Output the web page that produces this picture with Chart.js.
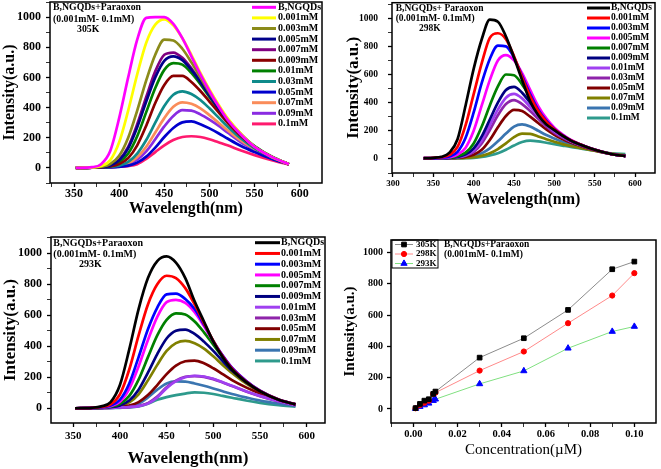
<!DOCTYPE html>
<html lang="en">
<head>
<meta charset="UTF-8">
<title>B,NGQDs + Paraoxon fluorescence</title>
<script src="https://cdn.jsdelivr.net/npm/chart.js@4"></script>
<style>
  body { margin: 0; background: #fff; }
  .panel { position: absolute; }
</style>
</head>
<body>
<div class="panel" style="left:0;top:0"><canvas id="c305" width="330" height="222"></canvas></div>
<div class="panel" style="left:330px;top:0"><canvas id="c298" width="331" height="214"></canvas></div>
<div class="panel" style="left:0;top:230px"><canvas id="c293" width="330" height="239"></canvas></div>
<div class="panel" style="left:330px;top:230px"><canvas id="cConc" width="331" height="239"></canvas></div>

<script>
// legend labels, same order in every spectrum panel
const seriesLabels = ['B,NGQDs', '0.001mM', '0.003mM', '0.005mM', '0.007mM', '0.009mM',
                      '0.01mM', '0.03mM', '0.05mM', '0.07mM', '0.09mM', '0.1mM'];

// 305K spectra
const wl305 = [352, 370, 380, 390, 400, 410, 420, 430, 440, 450, 460, 470, 480, 490, 500, 510, 520, 535, 550, 570, 588];
const int305 = [
  [0, 5, 25, 110, 330, 600, 850, 995, 1000, 1000, 955, 860, 740, 620, 510, 410, 320, 220, 140, 70, 25],
  [0, 3, 12, 50, 170, 380, 620, 830, 950, 985, 945, 860, 750, 630, 520, 420, 330, 225, 140, 70, 25],
  [0, 2, 8, 25, 80, 200, 380, 580, 750, 850, 845, 790, 700, 600, 500, 410, 325, 225, 140, 70, 25],
  [0, 2, 6, 15, 50, 130, 270, 440, 600, 710, 740, 715, 650, 570, 480, 395, 320, 220, 140, 70, 25],
  [0, 2, 6, 18, 55, 140, 290, 470, 640, 750, 765, 730, 660, 575, 485, 400, 320, 220, 140, 70, 25],
  [0, 2, 4, 10, 25, 65, 150, 280, 430, 550, 610, 610, 570, 510, 440, 370, 300, 210, 140, 70, 25],
  [0, 2, 5, 12, 35, 95, 210, 370, 530, 650, 695, 685, 630, 555, 470, 390, 315, 220, 145, 72, 25],
  [0, 1, 3, 7, 15, 40, 95, 185, 300, 410, 485, 508, 490, 450, 395, 335, 275, 195, 130, 68, 25],
  [0, 1, 2, 3, 7, 15, 35, 75, 135, 205, 265, 302, 308, 290, 262, 230, 195, 145, 105, 58, 25],
  [0, 1, 2, 5, 12, 30, 70, 140, 235, 330, 405, 435, 425, 395, 350, 300, 250, 180, 125, 65, 25],
  [0, 1, 2, 4, 10, 25, 55, 110, 190, 275, 345, 383, 380, 355, 320, 280, 235, 170, 120, 62, 25],
  [0, 2, 3, 5, 8, 12, 25, 60, 105, 150, 185, 205, 210, 205, 190, 170, 150, 115, 85, 50, 22]
];

// 298K spectra
const wl298 = [338, 350, 360, 370, 380, 390, 400, 410, 420, 430, 440, 450, 460, 470, 480, 490, 500, 510, 520, 535, 550, 570, 588];
const int298 = [
  [5, 8, 15, 45, 140, 380, 640, 850, 990, 975, 870, 720, 560, 410, 310, 245, 205, 165, 132, 95, 65, 35, 20],
  [5, 8, 12, 28, 85, 240, 460, 680, 860, 893, 850, 730, 580, 445, 340, 265, 210, 168, 133, 96, 65, 35, 20],
  [5, 6, 9, 18, 50, 150, 330, 540, 710, 805, 800, 720, 590, 460, 350, 272, 212, 170, 133, 96, 65, 35, 20],
  [5, 5, 7, 12, 30, 80, 200, 380, 560, 700, 738, 700, 610, 490, 375, 288, 222, 174, 136, 97, 66, 35, 20],
  [4, 5, 6, 9, 20, 45, 110, 230, 380, 515, 600, 595, 530, 440, 350, 275, 215, 170, 133, 96, 66, 35, 20],
  [4, 4, 5, 7, 14, 32, 75, 160, 280, 400, 490, 512, 470, 400, 325, 260, 205, 165, 130, 95, 65, 35, 20],
  [4, 4, 5, 7, 12, 26, 60, 130, 240, 350, 435, 462, 430, 370, 305, 245, 195, 160, 128, 93, 65, 35, 20],
  [4, 4, 5, 6, 11, 23, 50, 110, 205, 310, 390, 418, 390, 340, 285, 230, 185, 152, 123, 90, 63, 35, 20],
  [4, 4, 4, 6, 9, 15, 30, 65, 135, 225, 305, 348, 340, 300, 255, 210, 172, 142, 116, 87, 62, 35, 20],
  [3, 3, 3, 4, 5, 7, 12, 22, 40, 70, 110, 155, 180, 178, 160, 140, 122, 105, 92, 75, 58, 38, 25],
  [4, 4, 4, 5, 7, 11, 20, 40, 75, 125, 180, 230, 245, 230, 200, 170, 145, 122, 103, 80, 60, 36, 22],
  [2, 2, 3, 3, 4, 5, 8, 14, 25, 40, 65, 95, 120, 130, 125, 115, 105, 95, 85, 72, 58, 40, 35]
];

// 293K spectra
const wl293 = [352, 370, 380, 390, 400, 410, 420, 430, 440, 450, 460, 470, 480, 490, 500, 510, 520, 535, 550, 570, 588];
const int293 = [
  [0, 3, 12, 40, 150, 380, 640, 840, 950, 980, 940, 840, 690, 560, 430, 330, 250, 170, 110, 55, 25],
  [0, 2, 8, 25, 90, 250, 470, 670, 800, 855, 840, 775, 670, 550, 435, 335, 255, 172, 110, 55, 25],
  [0, 2, 6, 18, 55, 160, 330, 510, 650, 735, 740, 705, 640, 540, 435, 340, 260, 175, 112, 55, 25],
  [0, 2, 5, 14, 42, 125, 270, 440, 590, 685, 700, 680, 620, 530, 430, 340, 262, 178, 113, 56, 25],
  [0, 2, 4, 10, 28, 80, 185, 330, 470, 570, 612, 605, 560, 490, 410, 330, 258, 175, 113, 56, 25],
  [0, 2, 3, 7, 18, 50, 120, 230, 350, 450, 500, 508, 480, 430, 370, 305, 243, 168, 110, 55, 25],
  [0, 1, 2, 3, 5, 8, 14, 30, 70, 130, 175, 200, 210, 205, 190, 168, 145, 110, 80, 45, 20],
  [0, 1, 2, 3, 5, 8, 15, 33, 75, 135, 178, 203, 208, 203, 188, 166, 143, 108, 78, 44, 20],
  [0, 1, 2, 4, 8, 18, 40, 85, 150, 220, 275, 303, 308, 290, 258, 220, 182, 135, 95, 50, 22],
  [0, 1, 3, 6, 14, 38, 90, 180, 280, 370, 420, 435, 420, 385, 335, 280, 228, 160, 106, 54, 25],
  [0, 1, 2, 3, 6, 12, 30, 70, 120, 160, 173, 172, 160, 145, 128, 110, 92, 70, 50, 30, 15],
  [0, 0, 1, 2, 3, 5, 12, 30, 55, 72, 85, 95, 102, 100, 92, 80, 68, 50, 35, 20, 10]
];

// intensity vs concentration
const conc = [0.001, 0.003, 0.005, 0.007, 0.009, 0.01, 0.03, 0.05, 0.07, 0.09, 0.1];
const k305 = [5, 32, 53, 62, 96, 111, 328, 452, 633, 893, 942];
const k298 = [4, 25, 40, 53, 96, 104, 245, 367, 548, 725, 868];
const k293 = [2, 15, 25, 36, 53, 62, 160, 243, 388, 495, 527];

// labelled ticks
const wlTicksA = [350, 400, 450, 500, 550, 600];
const wlTicksB = [300, 350, 400, 450, 500, 550, 600];
const intTicks = [0, 200, 400, 600, 800, 1000];
const concTicks = [0, 0.02, 0.04, 0.06, 0.08, 0.1];

const colors305 = ['#ff00ff', '#ffff00', '#8b8b1a', '#00008b', '#800080', '#8b0000',
                   '#008000', '#0f8b8b', '#0000cd', '#fa8c5a', '#8a2be2', '#ff1a6e'];
const colors298 = ['#000000', '#ff0000', '#0000ff', '#ff00ff', '#008000', '#000080',
                   '#a040f0', '#8e24aa', '#800000', '#808000', '#3a75b0', '#2e9a8c'];

const serif = "'Liberation Serif', 'Times New Roman', serif";
Chart.defaults.font.family = serif;
Chart.defaults.color = '#000';

function bold(size) { return 'bold ' + size + 'px ' + serif; }
const near = (a, b) => Math.abs(a - b) < 1e-7;

// frame, notes and legend drawn over the plot
function deco(cfg) {
  return {
    id: 'deco',
    afterDraw(chart) {
      const { ctx, chartArea: a } = chart;
      ctx.save();
      ctx.strokeStyle = '#000';
      ctx.lineWidth = 1.5;
      ctx.strokeRect(a.left, a.top, a.right - a.left, a.bottom - a.top);
      ctx.fillStyle = '#000';
      ctx.textAlign = 'left';
      ctx.textBaseline = 'middle';
      cfg.notes.forEach(n => {
        ctx.font = n.font;
        ctx.fillText(n.text, n.x, n.y);
      });
      const lg = cfg.legend;
      if (lg.box) {
        ctx.lineWidth = 1;
        ctx.strokeRect(lg.box[0], lg.box[1], lg.box[2], lg.box[3]);
      }
      ctx.font = lg.font;
      chart.data.datasets.forEach((ds, i) => {
        const y = lg.y + i * lg.dy;
        ctx.strokeStyle = ds.borderColor;
        ctx.lineWidth = lg.lineWidth;
        ctx.beginPath();
        ctx.moveTo(lg.x0, y);
        ctx.lineTo(lg.x1, y);
        ctx.stroke();
        if (lg.markers) {
          ctx.fillStyle = ds.pointBackgroundColor;
          ctx.strokeStyle = ds.pointBorderColor;
          ctx.lineWidth = 1;
          Chart.helpers.drawPoint(ctx, { pointStyle: ds.pointStyle, radius: ds.pointRadius, borderWidth: 1, rotation: 0 },
                                  (lg.x0 + lg.x1) / 2, y);
        }
        ctx.fillStyle = '#000';
        ctx.fillText(ds.label, lg.textX, y);
      });
      ctx.restore();
    }
  };
}

function axis(c) {
  return {
    type: 'linear',
    min: c.min, max: c.max,
    // tick marks every `step`, labels only on the listed values
    afterBuildTicks: s => {
      const t = [];
      for (let k = Math.ceil(c.min / c.step - 1e-9); k * c.step <= c.max + 1e-9; k++) {
        t.push({ value: Math.round(k * c.step * 1e6) / 1e6 });
      }
      s.ticks = t;
    },
    afterFit: s => {
      if (c.width) s.width = c.width;
      if (c.height) s.height = c.height;
      s.paddingTop = 0; s.paddingBottom = 0; s.paddingLeft = 0; s.paddingRight = 0;
    },
    border: { display: false },
    grid: {
      drawOnChartArea: false, color: '#000', tickLength: 4,
      tickWidth: t => c.labels.some(v => near(v, t.tick.value)) ? 1.3 : 0.8
    },
    ticks: {
      autoSkip: false, maxRotation: 0,
      padding: c.pad, font: c.font,
      callback: v => {
        const hit = c.labels.find(m => near(m, v));
        return hit === undefined ? '' : (c.fmt ? c.fmt(hit) : String(hit));
      }
    },
    title: { display: true, text: c.title, font: c.titleFont, padding: c.titlePad }
  };
}

function spectrum(id, wl, rows, colors, cfg) {
  const datasets = rows.map((row, i) => ({
    label: seriesLabels[i],
    data: row.map((v, j) => ({ x: wl[j], y: v })),
    borderColor: colors[i],
    borderWidth: 2.7,
    pointRadius: 0,
    cubicInterpolationMode: 'monotone',
    fill: false
  }));
  new Chart(document.getElementById(id), {
    type: 'line',
    data: { datasets },
    options: {
      responsive: false,
      animation: false,
      layout: { padding: cfg.pad },
      plugins: { legend: { display: false }, tooltip: { enabled: false } },
      scales: { x: axis(cfg.x), y: axis(cfg.y) }
    },
    plugins: [deco(cfg)]
  });
}

// 305K
spectrum('c305', wl305, int305, colors305, {
  pad: { left: 0, top: 2, right: 8, bottom: 0 },
  x: { min: 323.4, max: 624.7, step: 25, labels: wlTicksA, height: 39, pad: 0, font: { size: 12, weight: 'bold' },
       title: 'Wavelength(nm)', titleFont: { size: 16, weight: 'bold' }, titlePad: { top: 0, bottom: 4 } },
  y: { min: -100, max: 1100, step: 100, labels: intTicks, width: 50, pad: 5, font: { size: 12, weight: 'bold' },
       title: 'Intensity(a.u.)', titleFont: { size: 16, weight: 'bold' }, titlePad: { top: 0, bottom: 0 } },
  notes: [
    { text: 'B,NGQDs+Paraoxon', x: 53, y: 7, font: bold(9.8) },
    { text: '(0.001mM- 0.1mM)', x: 53, y: 19, font: bold(9.8) },
    { text: '305K', x: 77, y: 29.5, font: bold(9.8) }
  ],
  legend: { x0: 252, x1: 276, textX: 278, y: 7.3, dy: 10.6, lineWidth: 3, font: bold(10) }
});

// 298K
spectrum('c298', wl298, int298, colors298, {
  pad: { left: 0, top: 2.7, right: 6, bottom: 0 },
  x: { min: 298.8, max: 624.7, step: 25, labels: wlTicksB, height: 41, pad: 1, font: { size: 9, weight: 'bold' },
       title: 'Wavelength(nm)', titleFont: { size: 16, weight: 'bold' }, titlePad: { top: 0, bottom: 5 } },
  y: { min: -100, max: 1110, step: 100, labels: intTicks, width: 62, pad: 10, font: { size: 9.5, weight: 'bold' },
       title: 'Intensity(a.u.)', titleFont: { size: 17, weight: 'bold' }, titlePad: { top: 13, bottom: 0 } },
  notes: [
    { text: 'B,NGQDs+ Paraoxon', x: 65.7, y: 9, font: bold(9.5) },
    { text: '(0.001mM- 0.1mM)', x: 65.7, y: 19, font: bold(9.5) },
    { text: '298K', x: 89, y: 29, font: bold(9.5) }
  ],
  legend: { x0: 257, x1: 280, textX: 281, y: 8, dy: 10, lineWidth: 3, font: bold(9.5) }
});

// 293K
spectrum('c293', wl293, int293, colors298, {
  pad: { left: 0, top: 7, right: 5, bottom: 0 },
  x: { min: 326.2, max: 619.6, step: 25, labels: wlTicksA, height: 46, pad: 3, font: { size: 11, weight: 'bold' },
       title: 'Wavelength(nm)', titleFont: { size: 17, weight: 'bold' }, titlePad: { top: 0, bottom: 0 } },
  y: { min: -95, max: 1105, step: 100, labels: intTicks, width: 51, pad: 5, font: { size: 12, weight: 'bold' },
       title: 'Intensity(a.u.)', titleFont: { size: 17, weight: 'bold' }, titlePad: { top: 0, bottom: 0 } },
  notes: [
    { text: 'B,NGQDs+Paraoxon', x: 53.3, y: 13.3, font: bold(10) },
    { text: '(0.001mM- 0.1mM)', x: 53.3, y: 24.3, font: bold(10) },
    { text: '293K', x: 79, y: 34.3, font: bold(10) }
  ],
  legend: { x0: 255, x1: 280, textX: 281, y: 12.7, dy: 10.75, lineWidth: 3, font: bold(10) }
});

// intensity vs concentration
const concCfg = {
  pad: { left: 0, top: 10, right: 4, bottom: 0 },
  notes: [
    { text: 'B,NGQDs+Paraoxon', x: 114, y: 14.5, font: bold(9.5) },
    { text: '(0.001mM- 0.1mM)', x: 114, y: 25, font: bold(9.5) }
  ],
  legend: { x0: 65, x1: 83, textX: 86, y: 14.5, dy: 9.5, lineWidth: 1, font: bold(9), markers: true, box: [62, 10, 46, 28] }
};
function concSeries(label, vals, line, point, style, r) {
  return {
    label, data: vals.map((v, i) => ({ x: conc[i], y: v })),
    showLine: true, borderColor: line, borderWidth: 1,
    pointStyle: style, pointRadius: r, pointBackgroundColor: point, pointBorderColor: point, pointBorderWidth: 1
  };
}
new Chart(document.getElementById('cConc'), {
  type: 'scatter',
  data: {
    datasets: [
      concSeries('305K', k305, '#8c8c8c', '#000000', 'rect', 3.3),
      concSeries('298K', k298, '#ff8a8a', '#ff0000', 'circle', 2.6),
      concSeries('293K', k293, '#80e080', '#0000ff', 'triangle', 3.6)
    ]
  },
  options: {
    responsive: false,
    animation: false,
    layout: { padding: concCfg.pad },
    plugins: { legend: { display: false }, tooltip: { enabled: false } },
    scales: {
      x: axis({ min: -0.0101, max: 0.1098, step: 0.01, labels: concTicks, height: 46, pad: 1,
                font: { size: 10.5, weight: 'bold' }, fmt: v => v.toFixed(2),
                title: 'Concentration(µM)', titleFont: { size: 15 }, titlePad: { top: 0, bottom: 10 } }),
      y: axis({ min: -90, max: 1080, step: 200, labels: intTicks, width: 61, pad: 4,
                font: { size: 10, weight: 'bold' },
                title: 'Intensity(a.u.)', titleFont: { size: 15, weight: 'bold' }, titlePad: { top: 11, bottom: 0 } })
    }
  },
  plugins: [deco(concCfg)]
});
</script>
</body>
</html>
